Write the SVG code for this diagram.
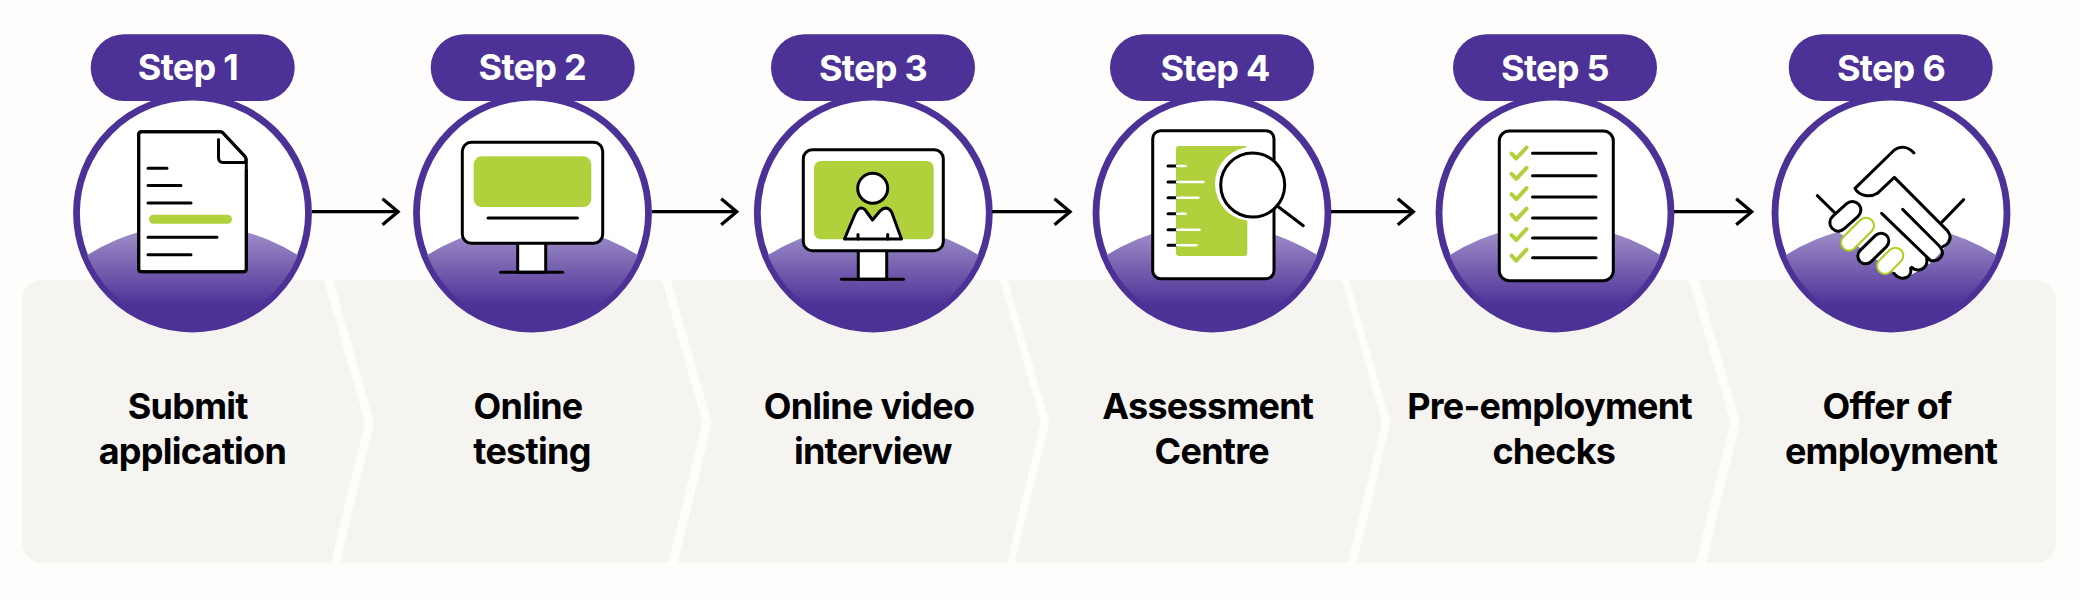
<svg xmlns="http://www.w3.org/2000/svg" xmlns:xlink="http://www.w3.org/1999/xlink" width="2080" height="600" viewBox="0 0 2080 600">
<style>
.panel{fill:#f5f4f0}
.pill{fill:#4c3196}
.st{font:700 36px Inter,"Liberation Sans",sans-serif;letter-spacing:-.7px;fill:#fff;text-anchor:middle}
.lb{font:700 36px Inter,"Liberation Sans",sans-serif;letter-spacing:-.75px;fill:#000;text-anchor:middle}
.k{fill:none;stroke:#000;stroke-width:3;stroke-linecap:round;stroke-linejoin:round}
.kw{fill:#fff;stroke:#000;stroke-width:3;stroke-linecap:round;stroke-linejoin:round}
.g{fill:#b0d13c}
.ck{fill:none;stroke:#b0d13c;stroke-width:4;stroke-linecap:round;stroke-linejoin:round}
.w{fill:none;stroke:#fff;stroke-width:2.5;stroke-linecap:round}
.arrow{fill:none;stroke:#000;stroke-width:3.3}
</style>
<defs>
<linearGradient id="hillGrad" gradientUnits="userSpaceOnUse" x1="0" y1="15" x2="0" y2="93">
<stop offset="0" stop-color="#a392cb"/><stop offset="1" stop-color="#4c3196"/>
</linearGradient>
<clipPath id="inner"><circle r="113.5"/></clipPath>
<g id="badge">
<circle r="116" fill="#fff" stroke="#4c3196" stroke-width="6.800"/>
<g clip-path="url(#inner)"><circle cy="209.600" r="198" fill="url(#hillGrad)"/></g>
</g>
<marker id="head" markerUnits="userSpaceOnUse" markerWidth="22" markerHeight="34" refX="17" refY="17" orient="auto" viewBox="0 0 22 34">
<path d="M1.500 4 L17 17 L1.500 30" fill="none" stroke="#000" stroke-width="3.300"/>
</marker>
</defs>
<rect width="2080" height="600" fill="#fefdfb"/>

<g id="step1">
<path class="panel" d="M42 280H324L365 422.300L331 562.700H42A20 20 0 0 1 22 542.700V300A20 20 0 0 1 42 280Z"/>
<rect class="pill" x="90.700" y="34.300" width="204" height="66.700" rx="33.300"/>
<text class="st" x="188" y="80">Step 1</text>
<use xlink:href="#badge" href="#badge" x="192.500" y="213"/>
<path class="kw" d="M141.500 131.700H220.500Q222 131.700 223.500 133.500L245 156.500Q246.300 158.500 246.300 160V269Q246.300 271.700 243.500 271.700H141.500Q138.700 271.700 138.700 269V134.500Q138.700 131.700 141.500 131.700Z" stroke="none"/>
<path class="k" d="M246.300 170V268.700Q246.300 271.700 243.300 271.700H141.700Q138.700 271.700 138.700 268.700V134.700Q138.700 131.700 141.700 131.700H220.500Q222 131.700 223.500 133.500L245 156.500Q247.500 160.500 244 162.500H223Q218.500 162.500 218.500 157.500V139.500"/>
<path class="k" d="M148 168.300H167M148 185.600H181M148 203H191M148 237.300H217M148 254.700H191"/>
<rect class="g" x="149" y="214.800" width="83" height="9" rx="4.500"/>
</g>

<g id="step2">
<path class="panel" d="M333 280H662L702.500 422.300L668.500 562.700H340L374 422.300Z"/>
<rect class="pill" x="430.700" y="34.300" width="204" height="66.700" rx="33.300"/>
<text class="st" x="532.300" y="80">Step 2</text>
<use xlink:href="#badge" href="#badge" x="532.500" y="213"/>
<rect class="kw" x="517.700" y="240" width="28" height="32.300"/>
<path class="k" d="M500.500 272.300H562.700"/>
<rect class="kw" x="462.300" y="142.300" width="140.400" height="101" rx="9"/>
<rect class="g" x="473.700" y="156.300" width="117.600" height="50.700" rx="8"/>
<path class="k" d="M488 218H577.500"/>
</g>

<g id="step3">
<path class="panel" d="M671 280H1000L1041 422.300L1007 562.700H678L711.500 422.300Z"/>
<rect class="pill" x="771" y="34.300" width="204" height="66.700" rx="33.300"/>
<text class="st" x="873" y="81">Step 3</text>
<use xlink:href="#badge" href="#badge" x="873.300" y="213"/>
<rect class="kw" x="858.300" y="247" width="28.400" height="32.300"/>
<path class="k" d="M841.500 279.300H903.500"/>
<rect class="kw" x="803.300" y="149.700" width="140" height="101" rx="9"/>
<rect class="g" x="814" y="161" width="119.700" height="78.300" rx="7"/>
<path class="kw" d="M844.500 239L855 214Q858 208 861 208Q864 208 866 211L872.500 220L880 211Q883 208 886 208Q890 208.500 892 213L901.500 239Z" stroke-width="2.600"/>
<path class="k" d="M858 234.500V239M887.700 234.500V239" stroke-width="2.200"/>
<circle class="kw" cx="872.700" cy="188.300" r="15"/>
</g>

<g id="step4">
<path class="panel" d="M1007.500 280H1342L1382 422.300L1348 562.700H1014.500L1049.500 422.300Z"/>
<rect class="pill" x="1110" y="34.300" width="204" height="66.700" rx="33.300"/>
<text class="st" x="1215" y="81">Step 4</text>
<use xlink:href="#badge" href="#badge" x="1212" y="213"/>
<rect x="1152.700" y="130.700" width="121.300" height="148" rx="8" fill="#fff"/>
<rect class="g" x="1176" y="146" width="71.300" height="110" rx="3"/>
<circle cx="1252" cy="184" r="37" fill="#fff"/>
<rect class="k" x="1152.700" y="130.700" width="121.300" height="148" rx="8"/>
<path class="k" d="M1168 166H1176M1168 182H1176M1168 197.700H1176M1168 213.700H1176M1168 229.700H1176M1168 245.300H1176"/>
<path class="w" d="M1177 166H1185.500M1177 182H1203.500M1177 197.700H1198.500M1177 213.700H1185.500M1177 229.700H1199.500M1177 245.300H1196.500"/>
<circle class="kw" cx="1252.700" cy="185" r="32"/>
<path class="k" d="M1278.300 206.700L1303.300 225.700"/>
</g>

<g id="step5">
<path class="panel" d="M1349 280H1689L1730.700 422.300L1696 562.700H1356.500L1390.500 422.300Z"/>
<rect class="pill" x="1453" y="34.300" width="204" height="66.700" rx="33.300"/>
<text class="st" x="1555" y="81">Step 5</text>
<use xlink:href="#badge" href="#badge" x="1555" y="213"/>
<rect class="kw" x="1499.300" y="131" width="114" height="149.700" rx="10"/>
<path class="k" d="M1532.500 153.300H1596M1532.500 175.700H1596M1532.500 197H1596M1532.500 218H1596M1532.500 238H1596M1532.500 257.700H1596"/>
<path class="ck" d="M1511.500 153.500L1516.300 158.500L1526.500 147.500M1511.500 173.800L1516.300 178.800L1526.500 167.800M1511.500 194.200L1516.300 199.200L1526.500 188.200M1511.500 214.700L1516.300 219.700L1526.500 208.700M1511.500 235L1516.300 240L1526.500 229M1511.500 255.700L1516.300 260.700L1526.500 249.700"/>
</g>

<g id="step6">
<path class="panel" d="M1698.500 280H2036A20 20 0 0 1 2056 300V542.700A20 20 0 0 1 2036 562.700H1706L1740 422.300Z"/>
<rect class="pill" x="1788.700" y="34.300" width="204" height="66.700" rx="33.300"/>
<text class="st" x="1891" y="81">Step 6</text>
<use xlink:href="#badge" href="#badge" x="1891" y="213"/>
<g transform="translate(1660 20) scale(.33333)">
<path d="M585 505L703 472L870 640L850 690L810 730L770 755L730 778L540 640Z" fill="#fff"/>
<g fill="none" stroke="#000" stroke-width="9" stroke-linecap="round" stroke-linejoin="round">
<path d="M472 527L528 582M845 607L911 539"/>
<path d="M762 399C745 380 722 376 703 390L585 505C595 525 628 535 652 520L703 472L862 632C878 650 870 672 848 680"/>
<path d="M728 568L838 678C858 700 842 726 812 722L665 580M800 715C806 745 775 760 755 742M752 745C758 775 722 785 702 760"/>
</g>
<g stroke-linecap="round">
<path d="M535 608L577 570" stroke="#000" stroke-width="60"/><path d="M535 608L577 570" stroke="#fff" stroke-width="42"/>
<path d="M567 668L618 617" stroke="#a8d01c" stroke-width="54"/><path d="M567 668L618 617" stroke="#fff" stroke-width="42"/>
<path d="M617 708L663 663" stroke="#000" stroke-width="56"/><path d="M617 708L663 663" stroke="#fff" stroke-width="38"/>
<path d="M675 738L706 707" stroke="#a8d01c" stroke-width="54"/><path d="M675 738L706 707" stroke="#fff" stroke-width="42"/>
</g>
</g>
</g>

<g id="labels">
<text class="lb" x="187.800" y="419">Submit</text><text class="lb" x="192.400" y="464">application</text>
<text class="lb" x="528" y="419">Online</text><text class="lb" x="532" y="464">testing</text>
<text class="lb" x="869" y="419">Online video</text><text class="lb" x="872.800" y="464">interview</text>
<text class="lb" x="1207.800" y="419">Assessment</text><text class="lb" x="1211.800" y="464">Centre</text>
<text class="lb" x="1549.500" y="419">Pre-employment</text><text class="lb" x="1553.800" y="464">checks</text>
<text class="lb" x="1887" y="419">Offer of</text><text class="lb" x="1891" y="464">employment</text>
</g>

<g id="connectors">
<path class="arrow" marker-end="url(#head)" d="M312 211.700H398"/>
<path class="arrow" marker-end="url(#head)" d="M652 211.700H736.700"/>
<path class="arrow" marker-end="url(#head)" d="M992 211.700H1070"/>
<path class="arrow" marker-end="url(#head)" d="M1331 211.700H1413.300"/>
<path class="arrow" marker-end="url(#head)" d="M1674 211.700H1751.700"/>
</g>
</svg>
